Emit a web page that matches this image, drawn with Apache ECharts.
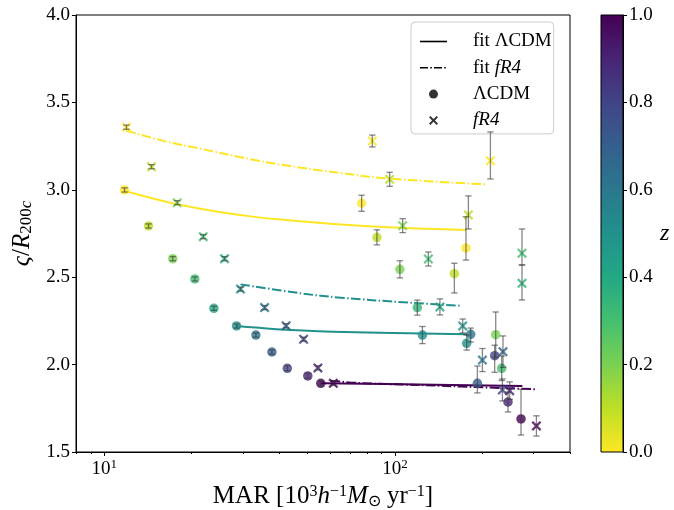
<!DOCTYPE html>
<html><head><meta charset="utf-8">
<script src="https://cdn.jsdelivr.net/npm/echarts@6/dist/echarts.min.js"></script>
<style>html,body{margin:0;padding:0;background:#fff}#c{width:674px;height:510px}</style>
</head><body><div id="c"></div>
<script>
// ---- ΛCDM points (circles) ----
const lcdmX = [11.75, 14.21, 17.22, 20.50, 23.84, 28.52, 33.24, 37.74, 42.64, 50.15, 55.59,
               76.8, 86.7, 104.0, 119.4, 124.3, 160.1, 175.5, 176.5, 182.2, 192.1, 222.1, 220.3, 232.9, 244.8, 271.4];
const lcdmY = [2.999, 2.793, 2.606, 2.490, 2.322, 2.221, 2.169, 2.072, 1.979, 1.935, 1.893,
               2.923, 2.728, 2.545, 2.326, 2.169, 2.520, 2.667, 2.122, 2.173, 1.893, 2.171, 2.051, 1.979, 1.786, 1.689];
const lcdmZ = [0.0, 0.1, 0.2, 0.3, 0.4, 0.5, 0.6, 0.7, 0.8, 0.9, 1.0,
               0.0, 0.1, 0.2, 0.35, 0.5, 0.1, 0.0, 0.5, 0.6, 0.7, 0.2, 0.8, 0.3, 0.9, 1.0];
const lcdmErrLo = [0.012, 0.012, 0.012, 0.012, 0.012, 0.012, 0.012, 0.012, 0.014, 0.014, 0.014,
                   0.046, 0.043, 0.049, 0.043, 0.049, 0.110, 0.069, 0.039, 0.044, 0.055, 0.130, 0.095, 0.070, 0.057, 0.092];
const lcdmErrHi = [0.012, 0.012, 0.012, 0.012, 0.012, 0.012, 0.012, 0.012, 0.014, 0.014, 0.014,
                   0.046, 0.043, 0.049, 0.043, 0.049, 0.060, 0.179, 0.047, 0.036, 0.099, 0.130, 0.060, 0.070, 0.057, 0.170];
// ---- fR4 points (crosses) ----
const fr4X = [11.93, 14.55, 17.83, 21.91, 25.94, 29.44, 35.62, 42.23, 48.51, 54.33, 61.38,
              83.6, 95.9, 106.3, 130.3, 142.8, 171.0, 178.9, 199.9, 213.0, 235.3, 234.2, 248.1, 273.5, 273.5, 306.6];
const fr4Y = [3.358, 3.132, 2.926, 2.732, 2.606, 2.432, 2.326, 2.222, 2.145, 1.981, 1.893,
              3.279, 3.060, 2.795, 2.604, 2.330, 2.221, 2.856, 2.026, 3.166, 2.074, 1.855, 1.851, 2.637, 2.465, 1.649];
const fr4Z = [0.0, 0.1, 0.2, 0.3, 0.4, 0.5, 0.6, 0.7, 0.8, 0.9, 1.0,
              0.0, 0.1, 0.2, 0.3, 0.4, 0.5, 0.1, 0.6, 0.0, 0.7, 0.8, 0.9, 0.3, 0.35, 1.0];
const fr4ErrLo = [0.012, 0.012, 0.012, 0.012, 0.012, 0.012, 0.012, 0.012, 0.012, 0.012, 0.012,
                  0.034, 0.040, 0.040, 0.040, 0.046, 0.040, 0.080, 0.066, 0.104, 0.090, 0.063, 0.050, 0.067, 0.095, 0.058];
const fr4ErrHi = [0.012, 0.012, 0.012, 0.012, 0.012, 0.012, 0.012, 0.012, 0.012, 0.012, 0.012,
                  0.034, 0.040, 0.040, 0.040, 0.046, 0.040, 0.109, 0.066, 0.165, 0.090, 0.063, 0.050, 0.139, 0.105, 0.058];
// ---- fit curves ----
const fitLcdmZ0X = [11.75, 14.2, 17.83, 24.0, 31.9, 40.4, 65.0, 95.2, 175.6];
const fitLcdmZ0Y = [2.995, 2.957, 2.917, 2.877, 2.848, 2.830, 2.802, 2.786, 2.770];
const fitFr4Z0X = [11.93, 16.0, 21.45, 31.9, 40.4, 65.0, 95.2, 207.0];
const fitFr4Z0Y = [3.338, 3.280, 3.235, 3.175, 3.144, 3.096, 3.064, 3.031];
const fitLcdmZ05X = [28.52, 33.2, 42.3, 67.5, 123.6, 177.5];
const fitLcdmZ05Y = [2.221, 2.212, 2.200, 2.186, 2.178, 2.173];
const fitFr4Z05X = [29.44, 47.4, 65.0, 113.2, 168.3];
const fitFr4Z05Y = [2.459, 2.408, 2.383, 2.354, 2.337];
const fitLcdmZ1X = [55.59, 120.0, 274.4];
const fitLcdmZ1Y = [1.893, 1.886, 1.878];
const fitFr4Z1X = [60.1, 75.0, 127.0, 305.0];
const fitFr4Z1Y = [1.908, 1.895, 1.882, 1.859];
// ---- axes ----
const xMajorTicks = [10, 100];
const xMinorTicks = [8, 9, 20, 30, 40, 50, 60, 70, 80, 90, 200, 300, 400];
const yTicks = [1.5, 2.0, 2.5, 3.0, 3.5, 4.0];
const cbTicks = [0.0, 0.2, 0.4, 0.6, 0.8, 1.0];
const legendNames = ['fit ΛCDM', 'fit fR4', 'ΛCDM', 'fR4'];

const viridisR = ['#fde725','#bddf26','#7ad151','#44bf70','#22a884','#21918c','#2a788e','#355f8d','#414487','#482475','#440154'];
const FONT = 'Liberation Serif';
const DASHDOT = [9.6, 2.4, 1.5, 2.4];
const CROSS = 'path://M0,1.6L1.6,0L5,3.4L8.4,0L10,1.6L6.6,5L10,8.4L8.4,10L5,6.6L1.6,10L0,8.4L3.4,5Z';
const ICON_SOLID = 'path://M0,0H27V1.6H0Z';
const ICON_DASHDOT = 'path://M0,0H8V1.6H0ZM10.2,0H11.8V1.6H10.2ZM14,0H22V1.6H14ZM24.2,0H25.8V1.6H24.2ZM27,0H27V1.6H27Z';

function pairs(x, y) { return x.map((v, i) => [v, y[i]]); }
function triples(x, y, z) { return x.map((v, i) => [v, y[i], z[i]]); }
function errs(x, y, lo, hi) { return x.map((v, i) => [v, y[i] - lo[i], y[i] + hi[i]]); }

function errRender(params, api) {
  const x = api.value(0), lo = api.value(1), hi = api.value(2);
  const p1 = api.coord([x, lo]), p2 = api.coord([x, hi]);
  const cw = 3.2;
  const st = { stroke: 'rgba(55,55,55,0.6)', lineWidth: 1.3 };
  return { type: 'group', children: [
    { type: 'line', shape: { x1: p1[0], y1: p1[1], x2: p2[0], y2: p2[1] }, style: st },
    { type: 'line', shape: { x1: p1[0] - cw, y1: p1[1], x2: p1[0] + cw, y2: p1[1] }, style: st },
    { type: 'line', shape: { x1: p2[0] - cw, y1: p2[1], x2: p2[0] + cw, y2: p2[1] }, style: st }
  ]};
}

function fitLine(x, y, color, type) {
  return { type: 'line', xAxisIndex: 0, yAxisIndex: 0, data: pairs(x, y), symbol: 'none', smooth: 0.4,
           lineStyle: { color: color, width: 2, type: type }, silent: true, z: 2 };
}

const cbStops = viridisR.slice().reverse().map((c, i, a) => ({ offset: i / (a.length - 1), color: c }));

const chart = echarts.init(document.getElementById('c'));
const option = {
  animation: false,
  textStyle: { fontFamily: FONT, color: '#000' },
  grid: [
    { left: 76, top: 15, width: 494, height: 437, outerBoundsMode: 'none', containLabel: false,
      show: true, borderColor: '#000', borderWidth: 1, backgroundColor: 'transparent' },
    { left: 601, top: 15, width: 22, height: 437, outerBoundsMode: 'none', containLabel: false,
      show: true, borderColor: '#000', borderWidth: 1, backgroundColor: 'transparent', z: 5 }
  ],
  xAxis: [
    { type: 'log', gridIndex: 0, position: 'bottom', min: 8, max: 400,
      name: '{n|MAR [10}{sup|3}{it|h}{sup|−1}{it|M}{sub|⊙}{n| yr}{sup|−1}{n|]}',
      nameLocation: 'middle', nameGap: 25,
      nameTextStyle: { fontFamily: FONT, fontSize: 25, color: '#000', rich: {
        n: { fontFamily: FONT, fontSize: 25 },
        it: { fontFamily: FONT, fontSize: 25, fontStyle: 'italic' },
        sup: { fontFamily: FONT, fontSize: 16, padding: [0, 0, 11, 0] },
        sub: { fontFamily: FONT, fontSize: 16, padding: [9, 0, 0, 0] } } },
      axisLine: { show: true, lineStyle: { color: '#000', width: 1 } },
      axisTick: { show: true, customValues: xMajorTicks, length: 4, lineStyle: { color: '#000' } },
      axisLabel: { show: true, customValues: xMajorTicks, color: '#000', fontSize: 19, fontFamily: FONT, margin: 6,
        formatter: v => '10{sup|' + Math.round(Math.log10(v)) + '}',
        rich: { sup: { fontSize: 13, fontFamily: FONT, padding: [0, 0, 9, 0] } } },
      splitLine: { show: false } },
    { type: 'log', gridIndex: 0, position: 'bottom', min: 8, max: 400,
      axisLine: { show: false },
      axisTick: { show: true, customValues: xMinorTicks, length: 2, lineStyle: { color: '#000' } },
      axisLabel: { show: false }, splitLine: { show: false } },
    { type: 'category', gridIndex: 1, data: ['cb'], show: false }
  ],
  yAxis: [
    { type: 'value', gridIndex: 0, min: 1.5, max: 4.0, interval: 0.5,
      name: '{it|ς}{n|/}{it|R}{sub|200}{subi|c}', nameLocation: 'middle', nameGap: 34, nameRotate: 90,
      nameTextStyle: { fontFamily: FONT, fontSize: 25, color: '#000', rich: {
        n: { fontFamily: FONT, fontSize: 25 },
        it: { fontFamily: FONT, fontSize: 25, fontStyle: 'italic' },
        sub: { fontFamily: FONT, fontSize: 17, padding: [9, 0, 0, 0] },
        subi: { fontFamily: FONT, fontSize: 17, fontStyle: 'italic', padding: [9, 0, 0, 0] } } },
      axisLine: { show: true, lineStyle: { color: '#000' } },
      axisTick: { show: true, length: 4, customValues: yTicks, lineStyle: { color: '#000' } },
      axisLabel: { color: '#000', fontSize: 19, fontFamily: FONT, margin: 6, customValues: yTicks, formatter: v => v.toFixed(1) },
      splitLine: { show: false } },
    { type: 'value', gridIndex: 1, position: 'right', min: 0, max: 1, interval: 0.2,
      name: 'z', nameLocation: 'middle', nameGap: 37, nameRotate: 0,
      nameTextStyle: { fontFamily: FONT, fontSize: 24, fontStyle: 'italic', color: '#000' },
      axisLine: { show: true, lineStyle: { color: '#000' } },
      axisTick: { show: true, length: 4, customValues: cbTicks, lineStyle: { color: '#000' } },
      axisLabel: { color: '#000', fontSize: 19, fontFamily: FONT, margin: 6, customValues: cbTicks, formatter: v => v.toFixed(1) },
      splitLine: { show: false } }
  ],
  visualMap: { show: false, type: 'continuous', dimension: 2, min: 0, max: 1, seriesIndex: [6, 7], inRange: { color: viridisR } },
  legend: {
    data: [
      { name: legendNames[0], icon: ICON_SOLID },
      { name: legendNames[1], icon: ICON_DASHDOT },
      { name: legendNames[2] },
      { name: legendNames[3] }
    ],
    orient: 'vertical', left: 411, top: 22, padding: [10, 2, 4, 9],
    itemWidth: 27, itemHeight: 9, itemGap: 7.3, selectedMode: false,
    backgroundColor: 'rgba(255,255,255,0.85)', borderColor: '#cccccc', borderWidth: 1, borderRadius: 4,
    textStyle: { fontFamily: FONT, fontSize: 19, color: '#000', lineHeight: 14,
      rich: { sp: { width: 21, lineHeight: 14 },
              n: { fontFamily: FONT, fontSize: 19, lineHeight: 14 },
              i: { fontFamily: FONT, fontSize: 19, fontStyle: 'italic', lineHeight: 14 } } },
    formatter: n => '{sp|}' + (n.indexOf('fR4') >= 0 ? (n.replace('fR4', '') ? '{n|fit }' : '') + '{i|fR4}' : '{n|' + n + '}')
  },
  series: [
    fitLine(fitLcdmZ0X, fitLcdmZ0Y, viridisR[0], 'solid'),
    fitLine(fitFr4Z0X, fitFr4Z0Y, viridisR[0], DASHDOT),
    fitLine(fitLcdmZ05X, fitLcdmZ05Y, viridisR[5], 'solid'),
    fitLine(fitFr4Z05X, fitFr4Z05Y, viridisR[5], DASHDOT),
    fitLine(fitLcdmZ1X, fitLcdmZ1Y, viridisR[10], 'solid'),
    fitLine(fitFr4Z1X, fitFr4Z1Y, viridisR[10], DASHDOT),
    { name: 'lcdmPoints', type: 'scatter', xAxisIndex: 0, yAxisIndex: 0, data: triples(lcdmX, lcdmY, lcdmZ),
      symbol: 'circle', symbolSize: 9.5, z: 3, silent: true },
    { name: 'fr4Points', type: 'scatter', xAxisIndex: 0, yAxisIndex: 0, data: triples(fr4X, fr4Y, fr4Z),
      symbol: CROSS, symbolSize: 10, z: 3, silent: true },
    { type: 'custom', xAxisIndex: 0, yAxisIndex: 0, data: errs(lcdmX, lcdmY, lcdmErrLo, lcdmErrHi),
      renderItem: errRender, encode: { x: 0, y: [1, 2] }, z: 4, silent: true },
    { type: 'custom', xAxisIndex: 0, yAxisIndex: 0, data: errs(fr4X, fr4Y, fr4ErrLo, fr4ErrHi),
      renderItem: errRender, encode: { x: 0, y: [1, 2] }, z: 4, silent: true },
    { name: legendNames[0], type: 'line', data: [], symbol: 'none', lineStyle: { color: '#000', width: 1.5 }, itemStyle: { color: '#000' } },
    { name: legendNames[1], type: 'line', data: [], symbol: 'none', lineStyle: { color: '#000', width: 1.5, type: DASHDOT }, itemStyle: { color: '#000' } },
    { name: legendNames[2], type: 'scatter', data: [], symbol: 'circle', itemStyle: { color: '#000' } },
    { name: legendNames[3], type: 'scatter', data: [], symbol: CROSS, itemStyle: { color: '#000' } },
    { type: 'bar', xAxisIndex: 2, yAxisIndex: 1, data: [1], barWidth: '100%', silent: true,
      itemStyle: { color: { type: 'linear', x: 0, y: 0, x2: 0, y2: 1, colorStops: cbStops } } }
  ]
};
chart.setOption(option);
</script></body></html>
